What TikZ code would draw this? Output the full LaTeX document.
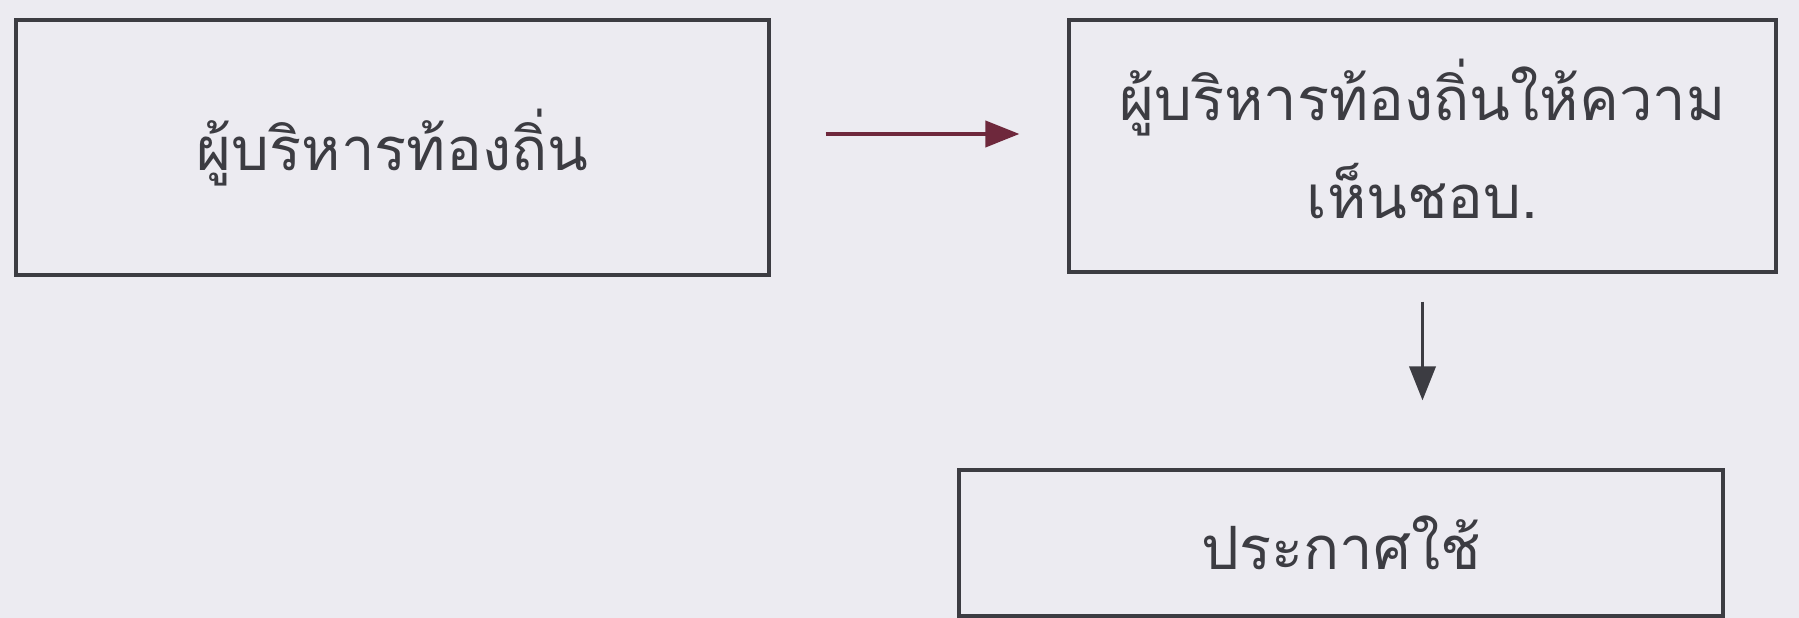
\documentclass[tikz,border=0pt]{standalone}
\usepackage{fontspec}
\newfontfamily\thaifont[Script=Thai]{Loma}
\usepackage{xcolor}
\usepackage{tikz}
\usetikzlibrary{
  positioning,
  arrows.meta,
  calc
}
\definecolor{paper}{RGB}{236,235,241}
\definecolor{inkline}{RGB}{60,60,66}
\definecolor{arrowred}{RGB}{110,40,60}
\tikzset{
  >=Latex,
  flowarrow/.style={-{Triangle[length=3.4mm,width=2.6mm]},line width=1.1pt},
  thaibox/.style={rectangle,draw=inkline,line width=0.9pt,align=center,inner sep=0pt,
    font=\thaifont\fontsize{17}{27}\selectfont,text=inkline}
}

\begin{document}
\begin{tikzpicture}
    \fill[paper] (0,0) rectangle (17.99,6.18);
    \useasboundingbox (0,0) rectangle (17.99,6.18);

    \node[thaibox,minimum width=7.53cm,minimum height=2.55cm] (leader) at (3.925,4.705) {ผู้บริหารท้องถิ่น};
    \node[thaibox,minimum width=7.07cm,minimum height=2.52cm] (approve) at (14.225,4.72) {\raisebox{1.5mm}{ผู้บริหารท้องถิ่นให้ความ}\\[1pt]\raisebox{1.5mm}{เห็นชอบ.}};
    \node[thaibox,minimum width=7.64cm,minimum height=1.46cm] (publish) at (13.41,0.75) {ประกาศใช้};

    \draw[flowarrow,draw=arrowred,fill=inkline,shorten <=5.5mm,shorten >=4.8mm]
        ([yshift=1.35mm]leader.east) -- ([yshift=1.35mm]leader.east -| approve.west);
    \draw[flowarrow,draw=inkline,shorten <=2.8mm,shorten >=6.8mm]
        (approve.south) -- (approve.south |- publish.north);
\end{tikzpicture}
\end{document}
